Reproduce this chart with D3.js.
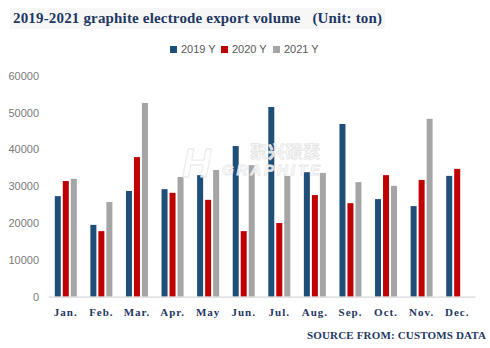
<!DOCTYPE html>
<html><head><meta charset="utf-8">
<script src="https://cdn.jsdelivr.net/npm/d3@7"></script>
<style>body{margin:0;background:#fff}svg{display:block}</style>
</head><body>
<svg id="c" width="490" height="348"></svg>
<script>
const months = ["Jan.","Feb.","Mar.","Apr.","May","Jun.","Jul.","Aug.","Sep.","Oct.","Nov.","Dec."];
const seriesNames = ["2019 Y","2020 Y","2021 Y"];
const v2019 = [27300,19500,28700,29200,33000,40900,51500,33800,46900,26500,24600,32800];
const v2020 = [31400,17800,37900,28200,26300,17800,20000,27600,25400,33000,31700,34700];
const v2021 = [32000,25700,52600,32500,34400,35700,32800,33600,31100,30100,48300,null];
const colors = ["#1F4E79","#C00000","#A5A5A5"];
const yTicks = [0,10000,20000,30000,40000,50000,60000];

const svg = d3.select("#c");
const L = 48, R = 475, T = 75.7, B = 296.7;
const x0 = d3.scaleBand().domain(months).range([L,R]);
const x1 = d3.scaleBand().domain(seriesNames).range([0,22]).paddingInner(0.25);
const y = d3.scaleLinear().domain([0,60000]).range([B,T]);
const vals = [v2019,v2020,v2021];

// title
svg.append("rect").attr("x",10).attr("y",8).attr("width",375).attr("height",21).attr("fill","#f7f7f7");
svg.append("text").attr("x",13).attr("y",23)
  .attr("font-family","Liberation Serif, serif").attr("font-weight","bold").attr("font-size",15)
  .attr("fill","#1F3864").attr("textLength",369).attr("lengthAdjust","spacing")
  .attr("xml:space","preserve").style("white-space","pre")
  .text("2019-2021 graphite electrode export volume   (Unit: ton)");

// legend
const legX = [170,221,273];
seriesNames.forEach((s,i)=>{
  svg.append("rect").attr("x",legX[i]).attr("y",46).attr("width",7).attr("height",7).attr("fill",colors[i]);
  svg.append("text").attr("x",legX[i]+11).attr("y",53)
    .attr("font-family","Liberation Sans, Arial, sans-serif").attr("font-size",11).attr("fill","#595959")
    .text(s);
});

// y axis labels
const yAxis = d3.axisLeft(y).tickValues(yTicks).tickSize(0).tickPadding(0).tickFormat(d3.format("d"));
const ga = svg.append("g").attr("transform",`translate(39,0)`).call(yAxis);
ga.select(".domain").remove();
ga.selectAll("text").attr("font-family","Liberation Sans, Arial, sans-serif").attr("font-size",11).attr("fill","#7a7a7a");

// bars
const g = svg.append("g");
months.forEach((m,mi)=>{
  const gx = x0(m) + (x0.bandwidth()-22)/2;
  seriesNames.forEach((s,si)=>{
    const v = vals[si][mi];
    if (v == null) return;
    g.append("rect").attr("x",gx + x1(s)).attr("y",y(v)).attr("width",x1.bandwidth())
      .attr("height",y(0)-y(v)).attr("fill",colors[si]);
  });
});

// x axis
const xAxis = d3.axisBottom(x0).tickSize(0).tickPadding(0);
const gx = svg.append("g").attr("transform",`translate(0,${B})`).call(xAxis);
gx.select(".domain").attr("stroke","#d9d9d9").attr("stroke-width",1.2);
gx.selectAll("text").attr("y",19).attr("dy",0)
  .attr("font-family","Liberation Serif, serif").attr("font-weight","bold").attr("font-size",11)
  .attr("fill","#1F3864").attr("letter-spacing",1);

// watermark
const wm = svg.append("g").attr("fill","#ffffff").attr("fill-opacity",0.8).attr("stroke","#e6e6e6").attr("stroke-width",0.8);
wm.append("text").attr("x",182).attr("y",177).attr("font-family","Liberation Sans, Arial, sans-serif")
  .attr("font-style","italic").attr("font-weight","bold").attr("font-size",40).text("H");
wm.append("text").attr("x",250).attr("y",158).attr("font-family","Noto Sans CJK SC, sans-serif")
  .attr("font-weight","bold").attr("font-size",17).attr("textLength",70).text("聚兴碳素");
wm.append("text").attr("x",222).attr("y",175).attr("font-family","Liberation Sans, Arial, sans-serif")
  .attr("font-style","italic").attr("font-weight","bold").attr("font-size",15).attr("textLength",98).text("GRAPHITE");

// source
svg.append("text").attr("x",307).attr("y",339)
  .attr("font-family","Liberation Serif, serif").attr("font-weight","bold").attr("font-size",11)
  .attr("fill","#1F3864").attr("textLength",179).attr("lengthAdjust","spacing")
  .text("SOURCE FROM: CUSTOMS DATA");
</script>
</body></html>
